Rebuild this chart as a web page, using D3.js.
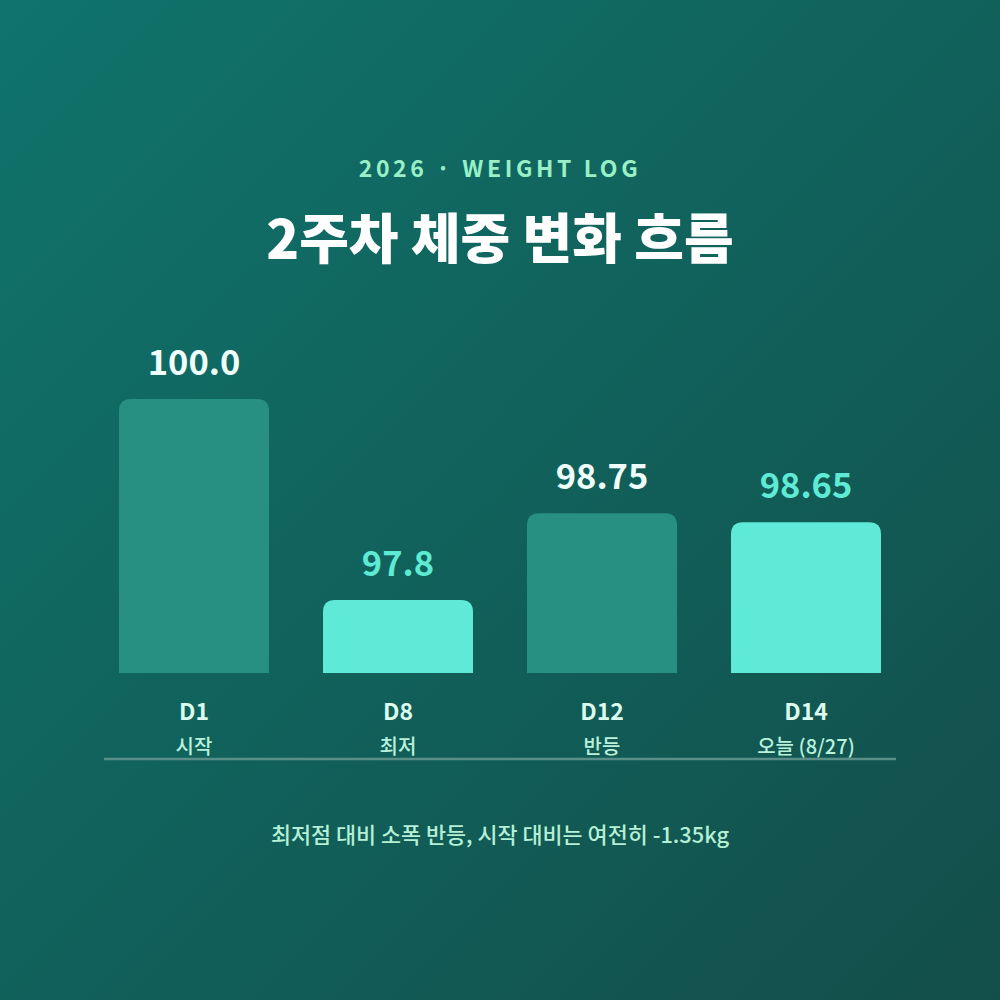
<!DOCTYPE html>
<html>
<head>
<meta charset="utf-8">
<script src="https://cdn.jsdelivr.net/npm/d3@7"></script>
<style>
  body { margin: 0; background: #134e4a; }
  svg { display: block; font-family: "Noto Sans CJK KR", "Noto Sans", sans-serif; }
</style>
</head>
<body>
<svg id="chart" width="1000" height="1000"></svg>
<script>
// data
const days = ["D1", "D8", "D12", "D14"];
const notes = ["시작", "최저", "반등", "오늘 (8/27)"];
const weights = [100.0, 97.8, 98.75, 98.65];
const valueLabels = ["100.0", "97.8", "98.75", "98.65"];
const highlight = [false, true, false, true];

const width = 1000, height = 1000;
const baseY = 673;

const svg = d3.select("#chart");

const defs = svg.append("defs");
const bg = defs.append("linearGradient")
  .attr("id", "bg")
  .attr("x1", "0").attr("y1", "0").attr("x2", "1").attr("y2", "1");
bg.append("stop").attr("offset", "0%").attr("stop-color", "#0f746c");
bg.append("stop").attr("offset", "100%").attr("stop-color", "#134e4a");

svg.append("rect")
  .attr("width", width).attr("height", height)
  .attr("fill", "url(#bg)");

// header
svg.append("text")
  .attr("x", width / 2).attr("y", 177)
  .attr("text-anchor", "middle")
  .attr("fill", "#99f0c6")
  .attr("font-size", 23)
  .attr("font-weight", 700)
  .attr("letter-spacing", "3.6px")
  .text("2026 · WEIGHT LOG");

svg.append("text")
  .attr("x", width / 2).attr("y", 259)
  .attr("text-anchor", "middle")
  .attr("fill", "#ffffff")
  .attr("font-size", 54)
  .attr("font-weight", 900)
  .text("2주차 체중 변화 흐름");

// scales
const pad = 54 / 204;
const x = d3.scaleBand()
  .domain(days)
  .range([92, 908])
  .paddingInner(pad)
  .paddingOuter(pad / 2);

const y = d3.scaleLinear()
  .domain([97, 100])
  .range([baseY, 399]);

const data = days.map((d, i) => ({
  day: d, note: notes[i], w: weights[i], label: valueLabels[i], hi: highlight[i]
}));

// bar with rounded top corners only
const r = 12;
function barPath(d) {
  const x0 = x(d.day), x1 = x0 + x.bandwidth();
  const t = y(d.w);
  return `M${x0},${baseY} V${t + r} Q${x0},${t} ${x0 + r},${t} H${x1 - r} Q${x1},${t} ${x1},${t + r} V${baseY} Z`;
}

svg.append("g")
  .selectAll("path")
  .data(data)
  .join("path")
  .attr("d", barPath)
  .attr("fill", d => d.hi ? "#5eead6" : "#288f83");

svg.append("g")
  .selectAll("text")
  .data(data)
  .join("text")
  .attr("x", d => x(d.day) + x.bandwidth() / 2)
  .attr("y", d => y(d.w) - 24)
  .attr("text-anchor", "middle")
  .attr("font-size", 34.5)
  .attr("font-weight", 700)
  .attr("fill", d => d.hi ? "#5eead4" : "#effffb")
  .text(d => d.label);

// category labels
svg.append("g")
  .selectAll("text")
  .data(data)
  .join("text")
  .attr("x", d => x(d.day) + x.bandwidth() / 2)
  .attr("y", 720)
  .attr("text-anchor", "middle")
  .attr("font-size", 23)
  .attr("font-weight", 700)
  .attr("fill", "#dcfcef")
  .text(d => d.day);

svg.append("g")
  .selectAll("text")
  .data(data)
  .join("text")
  .attr("x", d => x(d.day) + x.bandwidth() / 2)
  .attr("y", 754)
  .attr("text-anchor", "middle")
  .attr("font-size", 20)
  .attr("font-weight", 500)
  .attr("fill", "#b8f2dc")
  .text(d => d.note);

svg.append("line")
  .attr("x1", 104).attr("x2", 896)
  .attr("y1", 759).attr("y2", 759)
  .attr("stroke", "#5a8e88")
  .attr("stroke-width", 2.5);

// footer note
svg.append("text")
  .attr("x", width / 2).attr("y", 843)
  .attr("text-anchor", "middle")
  .attr("font-size", 21.8)
  .attr("font-weight", 500)
  .attr("fill", "#b5f0d6")
  .text("최저점 대비 소폭 반등, 시작 대비는 여전히 -1.35kg");
</script>
</body>
</html>
